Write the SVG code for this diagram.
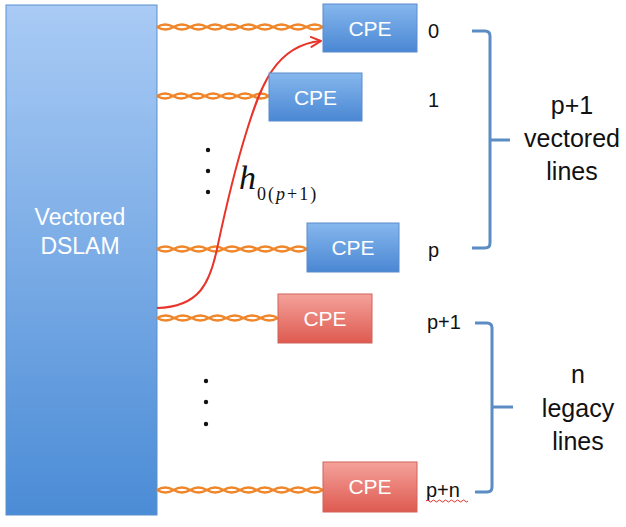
<svg xmlns="http://www.w3.org/2000/svg" width="626" height="527" viewBox="0 0 626 527">
<style>
.lbl{font-family:"Liberation Sans","Noto Sans",sans-serif;font-size:20px;fill:#111}
.cpe-t{font-family:"Liberation Sans","Noto Sans",sans-serif;font-size:21px;fill:#fff;text-anchor:middle}
.dslam-t{font-family:"Liberation Sans","Noto Sans",sans-serif;font-size:23px;fill:#fff;text-anchor:middle}
.side{font-family:"Liberation Sans","Noto Sans",sans-serif;font-size:25px;fill:#111;text-anchor:middle}
.wire{fill:none;stroke:#f0862a;stroke-width:2.4}
.brace{fill:none;stroke:#5b8cc4;stroke-width:3;stroke-linejoin:round}
.dot{fill:#111}
</style>
<defs>
<linearGradient id="gD" x1="0" y1="0" x2="0" y2="1"><stop offset="0" stop-color="#a9cbf5"/><stop offset="1" stop-color="#4b8cd6"/></linearGradient>
<linearGradient id="gB" x1="0" y1="0" x2="0" y2="1"><stop offset="0" stop-color="#86b7ee"/><stop offset="1" stop-color="#4a87d3"/></linearGradient>
<linearGradient id="gR" x1="0" y1="0" x2="0" y2="1"><stop offset="0" stop-color="#f4a29b"/><stop offset="1" stop-color="#de5a50"/></linearGradient>
<marker id="arr" viewBox="0 0 12 12" refX="11" refY="6" markerWidth="12" markerHeight="12" markerUnits="userSpaceOnUse" orient="auto">
<path d="M1,1 L11,6 L1,11" fill="none" stroke="#e8342a" stroke-width="2" stroke-linecap="round" stroke-linejoin="round"/>
</marker>
</defs>
<rect width="626" height="527" fill="#fff"/>

<g id="dslam">
<rect x="6" y="5" width="151" height="510" fill="url(#gD)" stroke="#5a8fcf" stroke-width="1"/>
<text class="dslam-t" x="80" y="225">Vectored</text>
<text class="dslam-t" x="80" y="254">DSLAM</text>
</g>

<g id="connectors">
<path class="wire" d="M157,27 q8.3,-5 16.6,0 t16.6,0 t16.6,0 t16.6,0 t16.6,0 t16.6,0 t16.6,0 t16.6,0 t16.6,0 t16.6,0"/>
<path class="wire" d="M157,27 q8.3,5 16.6,0 t16.6,0 t16.6,0 t16.6,0 t16.6,0 t16.6,0 t16.6,0 t16.6,0 t16.6,0 t16.6,0"/>
<path class="wire" d="M157,96 q8,-5 16,0 t16,0 t16,0 t16,0 t16,0 t16,0 t16,0"/>
<path class="wire" d="M157,96 q8,5 16,0 t16,0 t16,0 t16,0 t16,0 t16,0 t16,0"/>
<path class="wire" d="M157,249 q8.33,-5 16.67,0 t16.67,0 t16.67,0 t16.67,0 t16.67,0 t16.67,0 t16.67,0 t16.67,0 t16.67,0"/>
<path class="wire" d="M157,249 q8.33,5 16.67,0 t16.67,0 t16.67,0 t16.67,0 t16.67,0 t16.67,0 t16.67,0 t16.67,0 t16.67,0"/>
<path class="wire" d="M157,318 q8.64,-5 17.28,0 t17.28,0 t17.28,0 t17.28,0 t17.28,0 t17.28,0 t17.28,0"/>
<path class="wire" d="M157,318 q8.64,5 17.28,0 t17.28,0 t17.28,0 t17.28,0 t17.28,0 t17.28,0 t17.28,0"/>
<path class="wire" d="M157,490 q8.3,-5 16.6,0 t16.6,0 t16.6,0 t16.6,0 t16.6,0 t16.6,0 t16.6,0 t16.6,0 t16.6,0 t16.6,0"/>
<path class="wire" d="M157,490 q8.3,5 16.6,0 t16.6,0 t16.6,0 t16.6,0 t16.6,0 t16.6,0 t16.6,0 t16.6,0 t16.6,0 t16.6,0"/>
<path d="M157,308 C200,307 210,282 217,249 C224,216 236,165 247,130 C260,88 275,45 321,41" fill="none" stroke="#e8342a" stroke-width="2" marker-end="url(#arr)"/>
</g>

<g id="cpe0"><rect x="323" y="4" width="94" height="48" fill="url(#gB)" stroke="#5a8ccc" stroke-width="1"/><text class="cpe-t" x="370" y="36">CPE</text></g>
<g id="cpe1"><rect x="269" y="73" width="93" height="48" fill="url(#gB)" stroke="#5a8ccc" stroke-width="1"/><text class="cpe-t" x="315.5" y="105">CPE</text></g>
<g id="cpep"><rect x="307" y="223" width="92" height="49" fill="url(#gB)" stroke="#5a8ccc" stroke-width="1"/><text class="cpe-t" x="353" y="255">CPE</text></g>
<g id="cpep1"><rect x="278" y="294" width="94" height="49" fill="url(#gR)" stroke="#d0625a" stroke-width="1"/><text class="cpe-t" x="325" y="326">CPE</text></g>
<g id="cpepn"><rect x="323" y="462" width="94" height="50" fill="url(#gR)" stroke="#d0625a" stroke-width="1"/><text class="cpe-t" x="370" y="494">CPE</text></g>

<g id="dots-upper"><circle class="dot" cx="208" cy="150" r="2.2"/><circle class="dot" cx="208" cy="171" r="2.2"/><circle class="dot" cx="208" cy="192" r="2.2"/></g>
<g id="dots-lower"><circle class="dot" cx="206" cy="381" r="2.2"/><circle class="dot" cx="206" cy="402" r="2.2"/><circle class="dot" cx="206" cy="424" r="2.2"/></g>

<g id="channel-label">
<text x="239" y="189" font-family="'Liberation Serif',serif" font-style="italic" font-size="34" fill="#111">h</text>
<text x="257" y="200" font-family="'Liberation Serif',serif" font-size="18" letter-spacing="2" fill="#111">0(<tspan font-style="italic">p</tspan>+1)</text>
</g>

<g id="index-labels">
<text class="lbl" x="428" y="38">0</text>
<text class="lbl" x="428" y="107">1</text>
<text class="lbl" x="428" y="257">p</text>
<text class="lbl" x="427" y="329">p+1</text>
<text class="lbl" x="426" y="497">p+n</text>
<path d="M426,501 q1.5,-2 3,0 t3,0 t3,0 t3,0 t3,0 t3,0 t3,0 t3,0 t3,0 t3,0 t3,0 t3,0 t3,0 t3,0" fill="none" stroke="#e0302a" stroke-width="1"/>
</g>

<g id="brace-vectored">
<path class="brace" d="M472,31 H485 Q490,31 490,36 V243 Q490,248 485,248 H472 M490,140 H510"/>
<text class="side" x="572" y="114">p+1</text>
<text class="side" x="572" y="147">vectored</text>
<text class="side" x="572" y="180">lines</text>
</g>

<g id="brace-legacy">
<path class="brace" d="M475,323 H487 Q492,323 492,328 V487 Q492,492 487,492 H475 M492,407 H513"/>
<text class="side" x="578" y="383">n</text>
<text class="side" x="578" y="417">legacy</text>
<text class="side" x="578" y="450">lines</text>
</g>
</svg>
